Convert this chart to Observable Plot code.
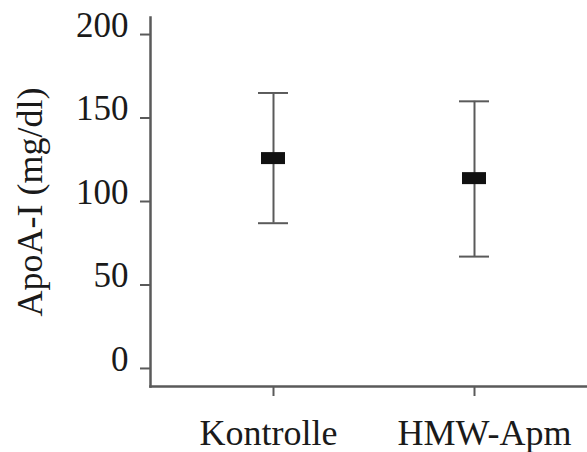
<!DOCTYPE html>
<html><head><meta charset="utf-8">
<script src="https://cdn.jsdelivr.net/npm/d3@7"></script>
<script src="https://cdn.jsdelivr.net/npm/@observablehq/plot@0.6"></script>
<style>body{margin:0;background:#fff} svg{display:block}</style>
</head><body><div id="chart"></div>
<script>
const groups = ["Kontrolle", "HMW-Apm"];
const means = [126, 114];
const lows = [87, 67];
const highs = [165, 160];
const yTicks = [0, 50, 100, 150, 200];
const yLabel = "ApoA-I (mg/dl)";

const data = groups.map((g, i) => ({group: g, mean: means[i], low: lows[i], high: highs[i]}));
const font = "'Liberation Serif', 'Times New Roman', serif";
const axisColor = "#5a5a5a";
const textColor = "#1a1a1a";
const xText = {tickSize: 0, tickPadding: 33, fontSize: 36, fill: textColor, label: null};

const chart = Plot.plot({
  width: 587, height: 452,
  marginLeft: 150, marginRight: 0, marginTop: 17, marginBottom: 66,
  style: {fontFamily: font, background: "#fff", color: textColor},
  x: {type: "band", domain: groups, range: [257, 489], paddingInner: 172 / 202, paddingOuter: 0, axis: null, label: null},
  y: {domain: [-10.8, 210.2], axis: null, label: null},
  marks: [
    Plot.frame({anchor: "left", stroke: axisColor, strokeWidth: 2.5}),
    Plot.frame({anchor: "bottom", stroke: axisColor, strokeWidth: 2.5}),
    Plot.axisY(yTicks, {tickSize: 10, tickFormat: () => "", stroke: axisColor, strokeWidth: 2, label: null}),
    Plot.axisY(yTicks, {tickSize: 0, tickPadding: 22, dy: -9, fontSize: 35, fill: textColor, label: null}),
    Plot.axisX(groups, {tickSize: 10, tickFormat: () => "", stroke: axisColor, strokeWidth: 2, label: null}),
    Plot.axisX([groups[0]], {...xText, dx: -5}),
    Plot.axisX([groups[1]], {...xText, dx: 10}),
    Plot.text([yLabel], {frameAnchor: "left", textAnchor: "middle", lineAnchor: "middle", rotate: -90, dx: -120, fontSize: 36, fill: textColor}),
    Plot.ruleX(data, {x: "group", y1: "low", y2: "high", stroke: axisColor, strokeWidth: 2}),
    Plot.tickY(data, {x: "group", y: "high", stroke: axisColor, strokeWidth: 2}),
    Plot.tickY(data, {x: "group", y: "low", stroke: axisColor, strokeWidth: 2}),
    Plot.tickY(data, {x: "group", y: "mean", stroke: "#111", strokeWidth: 12, insetLeft: 3, insetRight: 3})
  ]
});
document.getElementById("chart").appendChild(chart);
</script>
</body></html>
